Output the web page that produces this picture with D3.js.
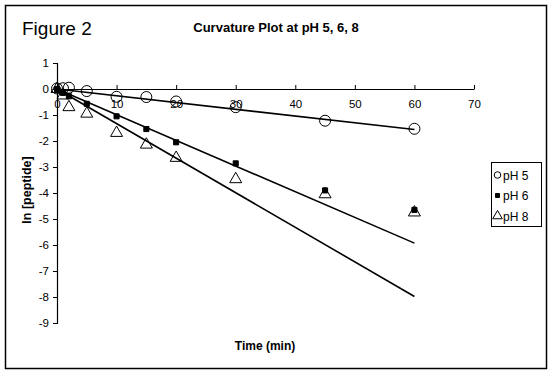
<!DOCTYPE html>
<html>
<head>
<meta charset="utf-8">
<script src="https://cdn.jsdelivr.net/npm/d3@7"></script>
<style>
  body { margin: 0; background: #fff; }
  text { font-family: "Liberation Sans", Arial, sans-serif; fill: #000; }
</style>
</head>
<body>
<svg width="553" height="384"></svg>
<script>
// sampling times (min)
var times = [0, 1, 2, 5, 10, 15, 20, 30, 45, 60];

// ln [peptide]
var ph5 = [0.02, 0.03, 0.05, -0.08, -0.30, -0.31, -0.48, -0.70, -1.22, -1.53];
var ph6 = [0.00, -0.15, -0.28, -0.57, -1.05, -1.54, -2.05, -2.86, -3.90, -4.65];
var ph8 = [0.00, -0.25, -0.70, -0.95, -1.69, -2.14, -2.65, -3.47, -4.05, -4.75];

var seriesNames = ["pH 5", "pH 6", "pH 8"];
// linear trend lines through the origin (slope per min)
var trendSlopes = [-0.026, -0.0988, -0.133];
var trendRange = [0, 60];

var xTicks = [0, 10, 20, 30, 40, 50, 60, 70];
var yTicks = [1, 0, -1, -2, -3, -4, -5, -6, -7, -8, -9];

var svg = d3.select("svg");

// outer frame
svg.append("rect")
    .attr("x", 5.5).attr("y", 5.5)
    .attr("width", 541).attr("height", 363)
    .attr("fill", "#fff")
    .attr("stroke", "#000")
    .attr("stroke-width", 1.5);

svg.append("text")
    .attr("x", 22).attr("y", 35)
    .style("font-size", "19px")
    .text("Figure 2");

svg.append("text")
    .attr("x", 276).attr("y", 32)
    .attr("text-anchor", "middle")
    .style("font-size", "13px")
    .style("font-weight", "bold")
    .text("Curvature Plot at pH 5, 6, 8");

var x = d3.scaleLinear().domain([0, 70]).range([57, 474]);
var y = d3.scaleLinear().domain([-9, 1]).range([323, 63]);

// y axis
var yAxis = svg.append("g")
    .attr("transform", "translate(" + x(0) + ",0)")
    .call(d3.axisLeft(y).tickValues(yTicks).tickSize(4).tickPadding(4)
        .tickFormat(function (d) { return d < 0 ? "-" + Math.abs(d) : d; }));
yAxis.select(".domain").attr("stroke-width", 1.2);
yAxis.selectAll("text").style("font-size", "11.5px").style("font-family", "Liberation Sans, Arial, sans-serif");

// x axis sits at y = 0, ticks pointing up, labels below
var xAxis = svg.append("g")
    .attr("transform", "translate(0," + y(0) + ")")
    .call(d3.axisBottom(x).tickValues(xTicks).tickSize(0).tickPadding(11));
xAxis.select(".domain").attr("stroke-width", 1.2);
xAxis.selectAll(".tick line").attr("y2", -4).attr("stroke", "#000");
xAxis.selectAll("text").style("font-size", "11.5px").style("font-family", "Liberation Sans, Arial, sans-serif");

svg.append("text")
    .attr("x", 265).attr("y", 350)
    .attr("text-anchor", "middle")
    .style("font-size", "12px")
    .style("font-weight", "bold")
    .text("Time (min)");

svg.append("text")
    .attr("transform", "translate(31,190) rotate(-90)")
    .attr("text-anchor", "middle")
    .style("font-size", "12.5px")
    .style("font-weight", "bold")
    .text("ln [peptide]");

// trend lines
var plot = svg.append("g");
trendSlopes.forEach(function (s) {
    plot.append("line")
        .attr("x1", x(trendRange[0])).attr("y1", y(s * trendRange[0]))
        .attr("x2", x(trendRange[1])).attr("y2", y(s * trendRange[1]))
        .attr("stroke", "#000")
        .attr("stroke-width", 1.6);
});

var circleSym = d3.symbol().type(d3.symbolCircle).size(95);
var squareSym = d3.symbol().type(d3.symbolSquare).size(26);
var triSym = d3.symbol().type(d3.symbolTriangle).size(62);

function drawMarks(vals, sym, filled) {
    plot.append("g").selectAll("path")
        .data(vals)
        .enter().append("path")
        .attr("d", sym)
        .attr("transform", function (d, i) {
            return "translate(" + x(times[i]) + "," + y(d) + ")";
        })
        .attr("fill", filled ? "#000" : "none")
        .attr("stroke", "#000")
        .attr("stroke-width", 1);
}
drawMarks(ph5, circleSym, false);
drawMarks(ph6, squareSym, true);
drawMarks(ph8, triSym, false);

// legend
var legend = svg.append("g");
legend.append("rect")
    .attr("x", 491.5).attr("y", 162.5)
    .attr("width", 50).attr("height", 64)
    .attr("fill", "#fff")
    .attr("stroke", "#000")
    .attr("stroke-width", 1);

var legendSyms = [
    d3.symbol().type(d3.symbolCircle).size(34),
    d3.symbol().type(d3.symbolSquare).size(16),
    d3.symbol().type(d3.symbolTriangle).size(40)
];
var legendFill = ["none", "#000", "none"];
seriesNames.forEach(function (name, i) {
    var cy = 175 + i * 20.5;
    legend.append("path")
        .attr("d", legendSyms[i])
        .attr("transform", "translate(497.5," + cy + ")")
        .attr("fill", legendFill[i])
        .attr("stroke", "#000")
        .attr("stroke-width", 1);
    legend.append("text")
        .attr("x", 503).attr("y", cy + 4.5)
        .style("font-size", "12px")
        .text(name);
});
</script>
</body>
</html>
